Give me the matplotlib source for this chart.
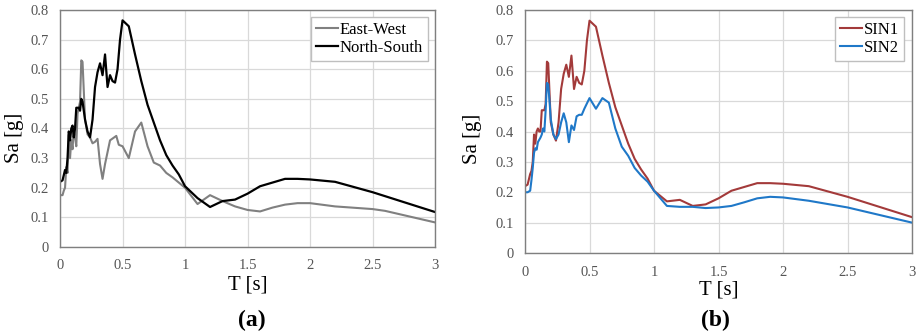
import matplotlib.pyplot as plt

plt.rcParams['font.family'] = ['Liberation Serif', 'DejaVu Serif']

# -----------------------------
# DATA
# -----------------------------
# (a) East-West / North-South
t_ew = [0, 0.02, 0.03, 0.04, 0.05, 0.06, 0.07, 0.08, 0.09, 0.1, 0.11, 0.12,
        0.13, 0.14, 0.15, 0.16, 0.17, 0.18, 0.2, 0.22, 0.24, 0.26, 0.28, 0.3,
        0.32, 0.34, 0.36, 0.4, 0.45, 0.47, 0.5, 0.55, 0.6, 0.65, 0.7, 0.75,
        0.8, 0.85, 0.9, 1.0, 1.1, 1.2, 1.3, 1.4, 1.5, 1.6, 1.7, 1.8, 1.9,
        2.0, 2.2, 2.5, 2.6, 3.0]
sa_ew = [0.175, 0.175, 0.19, 0.20, 0.27, 0.25, 0.38, 0.30, 0.36, 0.33, 0.40,
         0.37, 0.34, 0.45, 0.47, 0.49, 0.63, 0.625, 0.43, 0.38, 0.37, 0.35,
         0.355, 0.365, 0.28, 0.23, 0.28, 0.36, 0.375, 0.345, 0.34, 0.30,
         0.39, 0.42, 0.34, 0.285, 0.275, 0.25, 0.235, 0.20, 0.145, 0.175,
         0.155, 0.137, 0.125, 0.12, 0.133, 0.143, 0.148, 0.148, 0.137, 0.128,
         0.122, 0.083]

t_ns = [0, 0.02, 0.04, 0.05, 0.06, 0.07, 0.08, 0.09, 0.1, 0.11, 0.12, 0.13,
        0.15, 0.16, 0.17, 0.18, 0.2, 0.22, 0.24, 0.26, 0.28, 0.3, 0.32, 0.34,
        0.36, 0.38, 0.4, 0.42, 0.44, 0.46, 0.48, 0.5, 0.55, 0.6, 0.65, 0.7,
        0.75, 0.8, 0.85, 0.9, 0.95, 1.0, 1.1, 1.2, 1.3, 1.4, 1.5, 1.6, 1.8,
        1.9, 2.0, 2.2, 2.5, 3.0]
sa_ns = [0.22, 0.225, 0.26, 0.25, 0.30, 0.39, 0.36, 0.40, 0.41, 0.37, 0.40,
         0.47, 0.47, 0.46, 0.50, 0.49, 0.43, 0.39, 0.37, 0.43, 0.54, 0.59,
         0.62, 0.58, 0.65, 0.54, 0.58, 0.56, 0.555, 0.60, 0.70, 0.765, 0.745,
         0.65, 0.56, 0.48, 0.42, 0.36, 0.31, 0.275, 0.245, 0.205, 0.165,
         0.135, 0.155, 0.16, 0.18, 0.205, 0.23, 0.23, 0.228, 0.22, 0.185,
         0.118]

# (b) SIN1 / SIN2
t_sin1 = [0, 0.02, 0.04, 0.05, 0.06, 0.07, 0.08, 0.09, 0.1, 0.11, 0.12, 0.13,
          0.15, 0.16, 0.17, 0.18, 0.2, 0.22, 0.24, 0.26, 0.28, 0.3, 0.32,
          0.34, 0.36, 0.38, 0.4, 0.42, 0.44, 0.46, 0.48, 0.5, 0.55, 0.6,
          0.65, 0.7, 0.75, 0.8, 0.85, 0.9, 0.95, 1.0, 1.1, 1.2, 1.3, 1.4,
          1.5, 1.6, 1.8, 1.9, 2.0, 2.2, 2.5, 3.0]
sa_sin1 = [0.22, 0.225, 0.26, 0.27, 0.30, 0.39, 0.36, 0.40, 0.41, 0.40, 0.40,
           0.47, 0.47, 0.49, 0.63, 0.625, 0.43, 0.39, 0.37, 0.43, 0.54, 0.59,
           0.62, 0.58, 0.65, 0.54, 0.58, 0.56, 0.555, 0.60, 0.70, 0.765,
           0.745, 0.65, 0.56, 0.48, 0.42, 0.36, 0.31, 0.275, 0.245, 0.205,
           0.17, 0.175, 0.155, 0.16, 0.18, 0.205, 0.23, 0.23, 0.228, 0.22,
           0.185, 0.118]

t_sin2 = [0, 0.02, 0.04, 0.05, 0.06, 0.07, 0.08, 0.09, 0.1, 0.12, 0.13, 0.14,
          0.15, 0.16, 0.17, 0.18, 0.19, 0.2, 0.22, 0.24, 0.26, 0.28, 0.3,
          0.32, 0.34, 0.36, 0.38, 0.4, 0.42, 0.44, 0.46, 0.5, 0.55, 0.6,
          0.65, 0.7, 0.75, 0.8, 0.85, 0.9, 0.95, 1.0, 1.1, 1.2, 1.3, 1.4,
          1.5, 1.6, 1.7, 1.8, 1.9, 2.0, 2.2, 2.5, 3.0]
sa_sin2 = [0.20, 0.20, 0.205, 0.24, 0.28, 0.33, 0.345, 0.34, 0.365, 0.38,
           0.39, 0.41, 0.40, 0.47, 0.56, 0.555, 0.50, 0.44, 0.39, 0.375, 0.39,
           0.43, 0.46, 0.43, 0.365, 0.42, 0.405, 0.45, 0.455, 0.455, 0.475,
           0.51, 0.475, 0.51, 0.495, 0.41, 0.35, 0.32, 0.28, 0.255, 0.235,
           0.205, 0.155, 0.152, 0.152, 0.148, 0.15, 0.155, 0.167, 0.18,
           0.185, 0.183, 0.172, 0.15, 0.10]

x_ticks = [0, 0.5, 1, 1.5, 2, 2.5, 3]
x_labels = ["0", "0.5", "1", "1.5", "2", "2.5", "3"]
y_ticks = [0, 0.1, 0.2, 0.3, 0.4, 0.5, 0.6, 0.7, 0.8]
y_labels = ["0", "0.1", "0.2", "0.3", "0.4", "0.5", "0.6", "0.7", "0.8"]


def style_axes(ax, xlab_pos, ylab_pos, leg_anchor):
    ax.set_xlim(0, 3)
    ax.set_ylim(0, 0.8)
    ax.set_xticks(x_ticks)
    ax.set_xticklabels(x_labels)
    ax.set_yticks(y_ticks)
    ax.set_yticklabels(y_labels)
    ax.grid(True, color="#d9d9d9", linewidth=0.9)
    ax.set_axisbelow(True)
    for s in ax.spines.values():
        s.set_color("#7f7f7f")
        s.set_linewidth(1.0)
    ax.tick_params(axis="x", length=0, labelsize=10.5, colors="#555555", pad=9)
    ax.tick_params(axis="y", length=0, labelsize=10.5, colors="#555555", pad=8)
    ax.set_xlabel("T [s]", fontsize=15)
    ax.set_ylabel("Sa [g]", fontsize=15)
    ax.xaxis.set_label_coords(*xlab_pos)
    ax.yaxis.set_label_coords(*ylab_pos)
    leg = ax.legend(loc="upper right", fontsize=12, handlelength=1.3,
                    handletextpad=0.1, borderpad=0.3, labelspacing=0.12,
                    borderaxespad=0, fancybox=False, framealpha=1,
                    bbox_to_anchor=leg_anchor)
    leg.get_frame().set_edgecolor("#bfbfbf")
    leg.get_frame().set_linewidth(1.0)


fig = plt.figure(figsize=(9.18, 3.34), dpi=100)

# -----------------------------
# PANEL (a)
# -----------------------------
ax1 = fig.add_axes([0.0654, 0.2605, 0.4085, 0.7096])
ax1.plot(t_ew, sa_ew, color="#808080", lw=1.5, label="East-West")
ax1.plot(t_ns, sa_ns, color="black", lw=1.6, label="North-South")
style_axes(ax1, (0.5, -0.12), (-0.097, 0.46), (0.981, 0.97))

# -----------------------------
# PANEL (b)
# -----------------------------
ax2 = fig.add_axes([0.5719, 0.2425, 0.4216, 0.7275])
ax2.plot(t_sin1, sa_sin1, color="#a33a3a", lw=1.5, label="SIN1")
ax2.plot(t_sin2, sa_sin2, color="#1f78c8", lw=1.5, label="SIN2")
style_axes(ax2, (0.5, -0.113), (-0.11, 0.47), (0.979, 0.97))

fig.text(0.2745, 0.042, "(a)", ha="center", va="center", fontsize=17,
         fontweight="bold")
fig.text(0.7795, 0.042, "(b)", ha="center", va="center", fontsize=17,
         fontweight="bold")

fig.savefig("out.png", dpi=100)
